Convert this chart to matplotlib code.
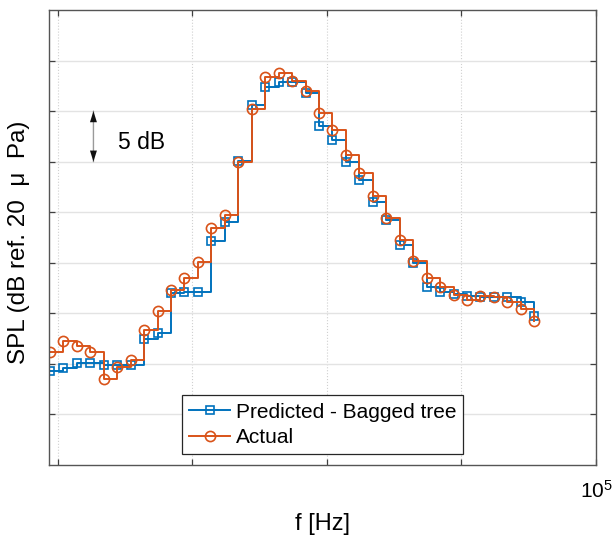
import numpy as np
import matplotlib
matplotlib.use("Agg")
import matplotlib.pyplot as plt

plt.rcParams['font.family'] = ['Liberation Sans', 'DejaVu Sans']
plt.rcParams['mathtext.fontset'] = 'custom'
plt.rcParams['mathtext.rm'] = 'Liberation Sans'


# DATA (third-octave bands)

freq = [8.73, 10.99, 13.84, 17.42, 21.93, 27.61, 34.75, 43.75, 55.08, 69.34,
        87.30, 109.9, 138.4, 174.2, 219.3, 276.1, 347.5, 437.5, 550.8, 693.4,
        873.0, 1099, 1384, 1742, 2193, 2761, 3475, 4375, 5508, 6934,
        8730, 10990, 13840, 17420, 21930, 27610, 34750]

predicted = [59.3, 59.6, 60.1, 60.1, 59.9, 59.9, 59.9, 62.5, 63.1, 67.0,
             67.1, 67.1, 72.2, 74.0, 80.1, 85.6, 87.4, 87.9, 87.9, 86.8,
             83.5, 82.1, 80.0, 78.2, 76.0, 74.2, 71.8, 70.0, 67.6, 67.1,
             66.9, 66.7, 66.6, 66.6, 66.6, 66.1, 64.7]

actual = [61.2, 62.3, 61.8, 61.2, 58.5, 59.7, 60.4, 63.4, 65.2, 67.3,
          68.5, 70.1, 73.4, 74.7, 80.0, 85.2, 88.4, 88.8, 88.0, 87.0,
          84.8, 83.1, 80.7, 78.9, 76.6, 74.4, 72.3, 70.2, 68.5, 67.6,
          66.8, 66.3, 66.7, 66.6, 66.1, 65.4, 64.2]

xticks = [10, 100, 1000, 10000, 100000]
xticklabels = ['', '', '', '', r'$\mathregular{10^5}$']
yticks = [55, 60, 65, 70, 75, 80, 85, 90]

# scale bar
bar_f = 18.4
bar_lo, bar_hi = 80.0, 85.0
bar_text_f = 27.8


fig = plt.figure(figsize=(6.14, 5.44), dpi=100)
ax = fig.add_axes([0.0798, 0.1452, 0.8909, 0.8364])

blue = '#0072BD'
orange = '#D95319'

ax.plot(freq, predicted, drawstyle='steps-post', color=blue, lw=1.4,
        marker='s', ms=6.3, mfc='none', mew=1.2, label='Predicted - Bagged tree')
ax.plot(freq, actual, drawstyle='steps-post', color=orange, lw=1.4,
        marker='o', ms=7.3, mfc='none', mew=1.2, label='Actual')

ax.set_xscale('log')
ax.set_xlim(8.6, 100000)
ax.set_ylim(50, 95)

ax.set_xticks(xticks)
ax.set_xticklabels(xticklabels, fontsize=15)
ax.xaxis.set_minor_locator(matplotlib.ticker.NullLocator())
ax.set_yticks(yticks)
ax.set_yticklabels([])

ax.tick_params(which='both', direction='in', top=True, right=True,
               length=4.5, width=0.9, color='#404040', pad=11)

for s in ax.spines.values():
    s.set_color('#555555')
    s.set_linewidth(1.0)

# grid: solid horizontal, dotted vertical
ax.grid(True, axis='y', color='#e3e3e3', lw=1.0, ls='-')
ax.grid(True, axis='x', color='#d0d0d0', lw=0.8, ls=':')
ax.set_axisbelow(True)

ax.set_xlabel('f [Hz]', fontsize=17)
ax.xaxis.set_label_coords(0.5, -0.105)
ax.set_ylabel('SPL (dB ref. 20  μ  Pa)', fontsize=17.5)
ax.yaxis.set_label_coords(-0.035, 0.49)

# 5 dB scale arrow: grey shaft, black heads
ax.annotate('', xy=(bar_f, bar_hi), xytext=(bar_f, bar_lo),
            arrowprops=dict(arrowstyle='-', color='#9a9a9a', lw=1.0,
                            shrinkA=0, shrinkB=0))
ax.annotate('', xy=(bar_f, bar_hi), xytext=(bar_f, bar_lo),
            arrowprops=dict(arrowstyle='<|-|>,head_length=0.8,head_width=0.25',
                            color='#111111', lw=0.0, shrinkA=0, shrinkB=0))
ax.text(bar_text_f, 81.9, '5 dB', fontsize=16.5, va='center', ha='left')

leg = ax.legend(loc='lower center', bbox_to_anchor=(0.5, 0.024), fontsize=15,
                numpoints=1, handlelength=2.0, handletextpad=0.25,
                labelspacing=0.3, borderpad=0.35, borderaxespad=0,
                fancybox=False, framealpha=1, edgecolor='#262626')
leg.get_frame().set_linewidth(0.9)

fig.savefig('out.png', dpi=100)
